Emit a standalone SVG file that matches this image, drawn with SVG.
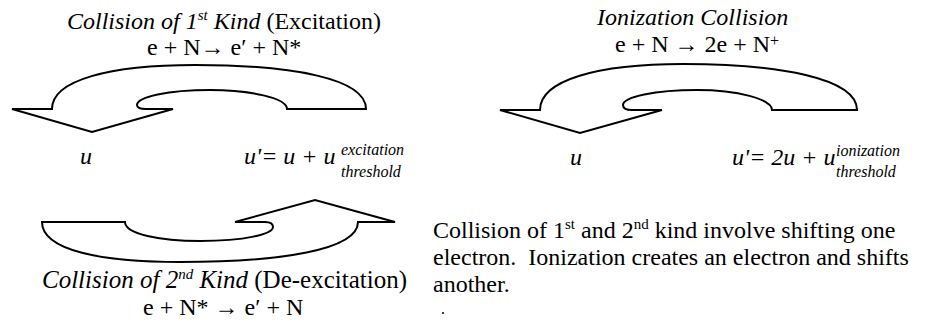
<svg xmlns="http://www.w3.org/2000/svg" width="925" height="327" viewBox="0 0 925 327">
<style>
  .bg { fill: #ffffff; }
  .arrow { fill: #ffffff; stroke: #000000; stroke-width: 2; stroke-linejoin: miter; }
  text { font-family: "Liberation Serif", "Times New Roman", serif; fill: #000000; font-size: 24px; }
  .it { font-style: italic; }
  .sm { font-size: 16px; font-style: italic; }
  .pre { white-space: pre; }
</style>
<rect class="bg" x="0" y="0" width="925" height="327"/>

<g id="connectors">
  <path id="arrow-excitation" class="arrow" d="M 12,109 L 52,109 C 52,80 110,65 195,65 C 290,65 366,78 366,109 L 287,109 C 287,98 250,90 210,90 C 168,90 137,97 137,105 Q 137,109 146,109 L 173,109 L 92,132 Z"/>
  <path id="arrow-ionization" class="arrow" d="M 500,110 L 540,110 C 540,80 598,64 683,64 C 778,64 857,78 857,110 L 772,110 C 772,99 737,90 697,90 C 655,90 623,97 623,105 Q 623,110 632,110 L 662,110 L 580,133 Z"/>
  <path id="arrow-deexcitation" class="arrow" d="M 42,222 L 125,222 C 125,234 160,241 200,241 C 245,241 273,234 273,227 Q 273,222 265,222 L 235,222 L 315,200 L 395,222 L 358,222 C 358,250 280,262 180,262 C 100,262 42,250 42,222 Z"/>
</g>

<g id="label-excitation">
  <text x="67" y="29"><tspan class="it">Collision of 1</tspan><tspan class="it" font-size="15" dy="-9">st</tspan><tspan class="it" dy="9"> Kind</tspan> (Excitation)</text>
  <text x="147" y="55">e + N→ e′ + N*</text>
</g>

<g id="label-ionization">
  <text class="it" x="597" y="25">Ionization Collision</text>
  <text x="615" y="52">e + N → 2e + N<tspan font-size="16" dy="-6">+</tspan></text>
</g>

<g id="node-u-left">
  <text class="it" x="80" y="164">u</text>
</g>

<g id="node-u-prime-left">
  <text class="it pre" x="244" y="164">u'= u + u</text>
  <text class="sm" x="341" y="155">excitation</text>
  <text class="sm" x="341" y="177">threshold</text>
</g>

<g id="node-u-right">
  <text class="it" x="570" y="165">u</text>
</g>

<g id="node-u-prime-right">
  <text class="it pre" x="732" y="165">u'= 2u + u</text>
  <text class="sm" x="836" y="156">ionization</text>
  <text class="sm" x="836" y="177">threshold</text>
</g>

<g id="label-deexcitation">
  <text x="42" y="288" style="font-size:25px"><tspan class="it">Collision of 2</tspan><tspan class="it" font-size="15" dy="-9">nd</tspan><tspan class="it" dy="9"> Kind</tspan> (De-excitation)</text>
  <text x="143" y="315">e + N* → e′ + N</text>
</g>

<g id="note">
  <text x="433" y="238">Collision of 1<tspan font-size="15" dy="-9">st</tspan><tspan dy="9"> and 2</tspan><tspan font-size="15" dy="-9">nd</tspan><tspan dy="9"> kind involve shifting one</tspan></text>
  <text class="pre" x="433" y="265">electron.  Ionization creates an electron and shifts</text>
  <text x="433" y="292">another.</text>
  <circle cx="443" cy="313" r="1" fill="#000000"/>
</g>
</svg>
